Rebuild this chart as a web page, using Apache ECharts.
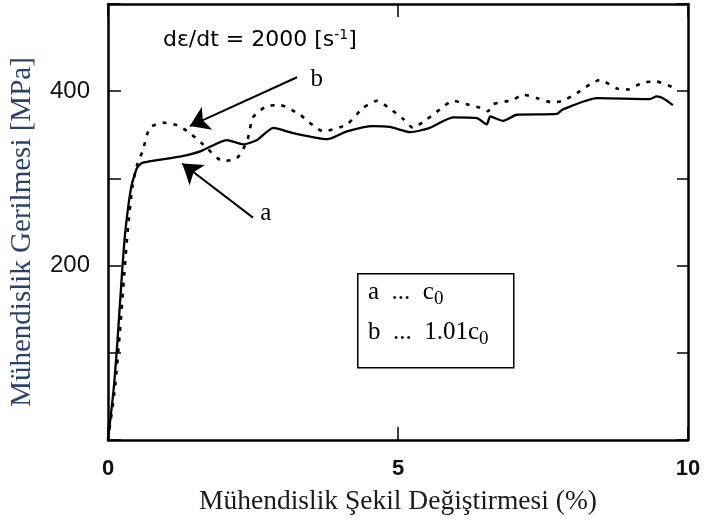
<!DOCTYPE html>
<html>
<head>
<meta charset="utf-8">
<script src="https://cdn.jsdelivr.net/npm/echarts@6/dist/echarts.min.js"></script>
<style>
  html, body { margin: 0; padding: 0; background: #fff; }
  #chart { width: 707px; height: 526px; }
</style>
</head>
<body>
<div id="chart"></div>
<script>
// strain (%) / stress (MPa)
const strainA = [0, 0.1, 0.17, 0.24, 0.3, 0.4, 0.5, 0.6, 1.24, 1.59, 2.05, 2.33, 2.57, 2.85, 3.19, 3.78, 4.12, 4.57, 4.86, 5.21, 5.55, 5.95, 6.36, 6.53, 6.59, 6.81, 7.05, 7.74, 7.84, 8.43, 9.34, 9.46, 9.57, 9.74]
const stressA = [0, 60, 120, 190, 240, 290, 312, 318, 325, 331, 344, 339, 344, 358, 352, 345, 354, 360, 359, 353, 358, 370, 369, 362, 371, 366, 373, 374, 379, 392, 391, 394, 392, 384]

const strainB = [0, 0.12, 0.2, 0.28, 0.34, 0.42, 0.5, 0.6, 0.72, 0.95, 1.19, 1.41, 1.64, 1.98, 2.22, 2.4, 2.5, 2.74, 2.97, 3.31, 3.71, 4.12, 4.4, 4.64, 4.86, 5.09, 5.26, 5.5, 5.72, 5.95, 6.19, 6.41, 6.55, 6.64, 6.98, 7.16, 7.4, 7.67, 7.84, 8.09, 8.31, 8.48, 8.78, 8.97, 9.22, 9.46, 9.72]
const stressB = [0, 60, 120, 190, 240, 290, 315, 332, 358, 364, 361, 352, 339, 320, 323, 343, 370, 383, 384, 373, 354, 362, 381, 389, 380, 368, 358, 368, 379, 389, 385, 381, 377, 385, 390, 396, 392, 387, 389, 398, 408, 413, 403, 402, 410, 411, 405]

const xTicks = [0, 5, 10]
const yTicks = [200, 400]

// arrows: [from, to] and the letter next to each, in data units
const arrowA = [[2.5, 255], [1.28, 317]]
const arrowB = [[3.26, 416], [1.41, 360]]
const labelA = [2.72, 260]
const labelB = [3.6, 414]

const chart = echarts.init(document.getElementById('chart'))

const zip = (xs, ys) => xs.map((x, i) => [x, ys[i]])

const boxLine = { show: true, onZero: false, lineStyle: { color: '#000', width: 2.5 } }
const tick = len => ({ inside: true, length: len, lineStyle: { color: '#000', width: 1.5 } })

const arrow = (from, to) => ({
  silent: true, symbol: ['none', 'arrow'], symbolSize: 19,
  lineStyle: { color: '#000', width: 2, type: 'solid' },
  label: { show: false },
  data: [[{ coord: from }, { coord: to }]]
})
const letter = (pos, txt) => ({
  silent: true, symbol: 'circle', symbolSize: 0,
  label: { show: true, position: 'inside', formatter: txt,
    fontFamily: 'Liberation Serif', fontSize: 25, color: '#000' },
  data: [{ coord: pos }]
})

const option = {
  animation: false,
  grid: { left: 108, right: 19, top: 4, bottom: 86 },
  xAxis: [
    {
      type: 'value', min: 0, max: 10, interval: 5,
      axisLine: boxLine, axisTick: tick(13),
      axisLabel: {
        margin: 18, color: '#111', fontSize: 22, fontWeight: 'bold',
        fontFamily: 'Liberation Sans',
        formatter: v => xTicks.includes(v) ? String(v) : ''
      },
      splitLine: { show: false },
      name: 'Mühendislik Şekil Değiştirmesi (%)',
      nameLocation: 'middle', nameGap: 48,
      nameTextStyle: { fontFamily: 'Liberation Serif', fontSize: 27.5, color: '#1a1a1a' }
    },
    {
      type: 'value', min: 0, max: 10, interval: 5, position: 'top',
      axisLine: boxLine, axisTick: tick(13),
      axisLabel: { show: false },
      splitLine: { show: false }
    }
  ],
  yAxis: [
    {
      type: 'value', min: 0, max: 500, interval: 100,
      axisLine: boxLine, axisTick: tick(13),
      axisLabel: {
        margin: 18, color: '#111', fontSize: 24,
        fontFamily: 'Liberation Sans',
        formatter: v => yTicks.includes(v) ? String(v) : ''
      },
      splitLine: { show: false },
      name: 'Mühendislik Gerilmesi [MPa]',
      nameLocation: 'middle', nameGap: 71,
      nameTextStyle: { fontFamily: 'Liberation Serif', fontSize: 29, color: '#2b426b', padding: [0, 20, 0, 0] }
    },
    {
      type: 'value', min: 0, max: 500, interval: 100, position: 'right',
      axisLine: boxLine, axisTick: tick(11),
      axisLabel: { show: false },
      splitLine: { show: false }
    }
  ],
  series: [
    {
      name: 'a', type: 'line', data: zip(strainA, stressA),
      showSymbol: false, smooth: 0.2,
      lineStyle: { color: '#000', width: 2.3 },
      markLine: arrow(arrowA[0], arrowA[1]),
      markPoint: letter(labelA, 'a')
    },
    {
      name: 'b', type: 'line', data: zip(strainB, stressB),
      showSymbol: false, smooth: 0.2,
      lineStyle: { color: '#000', width: 2.6, type: [4, 7] },
      markLine: arrow(arrowB[0], arrowB[1]),
      markPoint: letter(labelB, 'b')
    }
  ],
  graphic: [
    {
      type: 'text', left: 163, top: 28,
      style: {
        text: 'dε/dt = 2000 [s{sup|-1}]',
        font: '22px "DejaVu Sans"', fill: '#000',
        rich: { sup: { fontSize: 14, verticalAlign: 'top', padding: [0, 0, 11, 0], fontFamily: 'DejaVu Sans' } }
      }
    },
    {
      type: 'rect', left: 357, top: 273,
      shape: { width: 156, height: 94 },
      style: { fill: '#fff', stroke: '#000', lineWidth: 1.5 }
    },
    {
      type: 'text', left: 368, top: 280,
      style: {
        text: 'a  ...  c{sub|0}',
        font: '25px "Liberation Serif"', fill: '#000',
        rich: { sub: { fontSize: 19, padding: [14, 0, 0, 0], fontFamily: 'Liberation Serif' } }
      }
    },
    {
      type: 'text', left: 368, top: 320,
      style: {
        text: 'b  ...  1.01c{sub|0}',
        font: '25px "Liberation Serif"', fill: '#000',
        rich: { sub: { fontSize: 19, padding: [14, 0, 0, 0], fontFamily: 'Liberation Serif' } }
      }
    }
  ]
}

chart.setOption(option)
</script>
</body>
</html>
